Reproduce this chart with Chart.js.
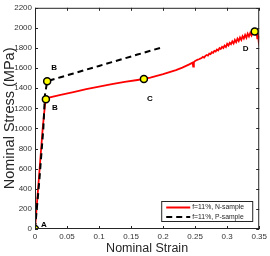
<!DOCTYPE html>
<html><head><meta charset="utf-8">
<script src="https://cdn.jsdelivr.net/npm/chart.js@4.4.1/dist/chart.umd.min.js"></script>
<style>html,body{margin:0;padding:0;background:#fff}#wrap{width:270px;height:256px}</style>
</head><body><div id="wrap"><canvas id="c" width="270" height="256"></canvas></div>
<script>
const xTickLabels = ['0','0.05','0.1','0.15','0.2','0.25','0.3','0.35'];
const yTickLabels = ['0','200','400','600','800','1000','1200','1400','1600','1800','2000','2200'];
const seriesLabels = ['f=11%, N-sample','f=11%, P-sample'];
const nStrain = [0,0.006,0.012,0.0155,0.017,0.02,0.04,0.06,0.08,0.1,0.12,0.14,0.16,0.17,0.18,0.2,0.22,0.23,0.24,0.246,0.247,0.248,0.25,0.252,0.254,0.256,0.258,0.26,0.262,0.264,0.266,0.268,0.27,0.272,0.274,0.276,0.278,0.28,0.282,0.284,0.286,0.288,0.29,0.292,0.294,0.296,0.298,0.3,0.302,0.304,0.306,0.308,0.31,0.312,0.314,0.316,0.318,0.32,0.322,0.324,0.326,0.328,0.33,0.332,0.334,0.336,0.338,0.34,0.343,0.345,0.346,0.347,0.348,0.349,0.35];
const nStress = [0,500,1000,1230,1290,1305,1335,1362,1390,1415,1440,1463,1482,1492,1505,1540,1580,1605,1635,1655,1615,1660,1672,1678,1684,1688,1695,1700,1712,1705,1722,1730,1724,1745,1740,1758,1752,1772,1765,1785,1776,1800,1790,1812,1800,1825,1810,1842,1825,1852,1838,1866,1845,1880,1858,1893,1870,1905,1880,1918,1895,1930,1902,1942,1915,1950,1925,1958,1968,1930,1955,1895,1945,1880,1920];
const pStrain = [0,0.007,0.013,0.0155,0.018,0.019,0.04,0.06,0.08,0.1,0.12,0.14,0.16,0.18,0.2];
const pStress = [0,500,1000,1330,1430,1470,1510,1547,1585,1622,1660,1697,1735,1772,1810];
const markStrain = [0,0.017,0.019,0.17,0.343];
const markStress = [0,1290,1470,1492,1965];
const markLabels = ['A','B','B','C','D'];
const labelOffsets = [[9,-4],[9,9],[7,-13],[6,20],[-9,17]];

const toXY = (xs, ys) => xs.map((x,i)=>({x:x,y:ys[i]}));
const axisColor = '#262626';
const fam = '"Liberation Sans", Arial, sans-serif';

const framePlugin = {
  id:'frame',
  afterDatasetsDraw(chart){
    const {ctx, chartArea:a, scales:{x,y}} = chart;
    ctx.save();
    ctx.strokeStyle = axisColor; ctx.lineWidth = 1;
    ctx.strokeRect(a.left+0.5, a.top+0.5, a.right-a.left-1, a.bottom-a.top-1);
    ctx.beginPath();
    x.ticks.forEach((t,i)=>{const px=Math.round(x.getPixelForTick(i))+0.5;
      ctx.moveTo(px,a.bottom); ctx.lineTo(px,a.bottom-3);
      ctx.moveTo(px,a.top); ctx.lineTo(px,a.top+3);});
    y.ticks.forEach((t,i)=>{const py=Math.round(y.getPixelForTick(i))+0.5;
      ctx.moveTo(a.left,py); ctx.lineTo(a.left+3,py);
      ctx.moveTo(a.right,py); ctx.lineTo(a.right-3,py);});
    ctx.stroke();
    ctx.fillStyle = '#000';
    ctx.font = 'bold 8px ' + fam;
    ctx.textAlign='center'; ctx.textBaseline='middle';
    markLabels.forEach((l,i)=>{
      const px = x.getPixelForValue(markStrain[i]), py = y.getPixelForValue(markStress[i]);
      ctx.fillText(l, px+labelOffsets[i][0], py+labelOffsets[i][1]);
    });
    const lx = a.right-98, ly = a.bottom-28, lw = 91, lh = 20;
    ctx.fillStyle='#fff'; ctx.fillRect(lx,ly,lw,lh);
    ctx.strokeStyle=axisColor; ctx.lineWidth=1; ctx.strokeRect(lx+0.5,ly+0.5,lw,lh);
    const ds = chart.data.datasets;
    [0,1].forEach(k=>{
      const yy = ly + 6.5 + k*9.5;
      ctx.strokeStyle = ds[k].borderColor; ctx.lineWidth = 2;
      ctx.setLineDash(ds[k].borderDash || []);
      ctx.beginPath(); ctx.moveTo(lx+5,yy); ctx.lineTo(lx+29,yy); ctx.stroke();
      ctx.setLineDash([]);
      ctx.fillStyle='#262626'; ctx.font='6.8px ' + fam;
      ctx.textAlign='left';
      ctx.fillText(ds[k].label, lx+31, yy);
    });
    ctx.restore();
  }
};

new Chart(document.getElementById('c'), {
  type:'line',
  data:{datasets:[
    {label:seriesLabels[0], data:toXY(nStrain,nStress), borderColor:'#ff0000', borderWidth:1.8, pointRadius:0, tension:0, order:2},
    {label:seriesLabels[1], data:toXY(pStrain,pStress), borderColor:'#000000', borderWidth:2, borderDash:[6,4], pointRadius:0, tension:0, order:1},
    {label:'marks', data:toXY(markStrain,markStress), showLine:false, pointRadius:3.5, pointBackgroundColor:'#ffff00', pointBorderColor:'#000', pointBorderWidth:1.5, order:0}
  ]},
  options:{
    responsive:false, animation:false, devicePixelRatio:1,
    layout:{padding:{top:3,right:8,left:0,bottom:0}},
    plugins:{legend:{display:false}, tooltip:{enabled:false}},
    scales:{
      x:{type:'linear', min:0, max:0.35, grid:{display:false, drawTicks:false}, border:{display:false},
        afterBuildTicks(s){ s.ticks = xTickLabels.map(v=>({value:parseFloat(v)})); },
        ticks:{padding:3, color:'#333', font:{size:8, family:fam}, maxRotation:0, autoSkip:false,
          callback:(v,i)=>xTickLabels[i]},
        title:{display:true, text:'Nominal Strain', color:'#262626', padding:{top:0,bottom:0}, font:{size:12.5, family:fam}},
        afterFit(s){ s.height = 27; }},
      y:{type:'linear', min:0, max:2200, grid:{display:false, drawTicks:false}, border:{display:false},
        afterBuildTicks(s){ s.ticks = yTickLabels.map(v=>({value:parseFloat(v)})); },
        ticks:{padding:3, color:'#333', font:{size:8, family:fam}, autoSkip:false,
          callback:(v,i)=>yTickLabels[i]},
        title:{display:true, text:'Nominal Stress (MPa)', color:'#262626', padding:{top:1,bottom:0}, font:{size:14.5, family:fam}},
        afterFit(s){ s.width = 35; }}
    }
  },
  plugins:[framePlugin]
});
</script></body></html>
